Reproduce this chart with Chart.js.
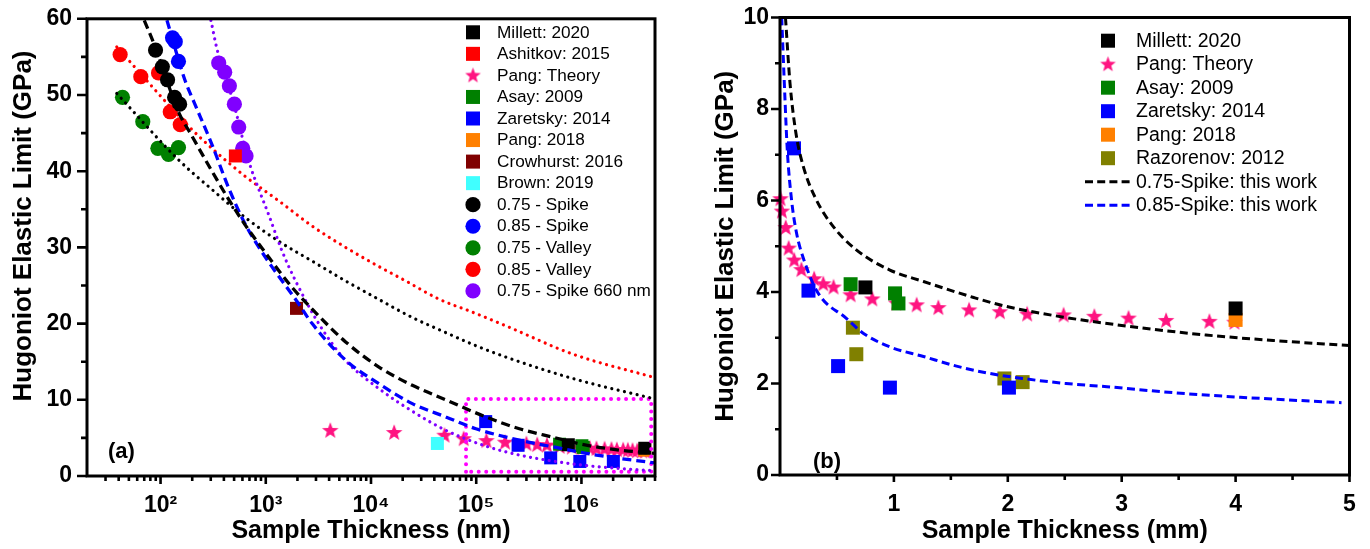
<!DOCTYPE html>
<html><head><meta charset="utf-8">
<script src="https://cdn.jsdelivr.net/npm/chart.js@4.4.1/dist/chart.umd.min.js"></script>
<style>
html,body{margin:0;padding:0;background:#fff;width:1370px;height:549px;overflow:hidden}
#wa{position:absolute;left:0;top:0;width:690px;height:549px}
#wb{position:absolute;left:690px;top:0;width:680px;height:549px}
</style></head><body>
<div id="wa"><canvas id="ca" width="690" height="549"></canvas></div>
<div id="wb"><canvas id="cb" width="680" height="549"></canvas></div>
<script>
// ---------------- DATA ----------------
// panel (a): thickness in nm, HEL in GPa
const spike075X = [89.6, 104, 116.6, 136, 151.7];
const spike075Y = [55.9, 53.7, 52.0, 49.7, 48.8];
const spike085X = [130, 138, 148];
const spike085Y = [57.5, 57.0, 54.4];
const valley075X = [43.5, 67.8, 94.3, 119, 148];
const valley075Y = [49.7, 46.5, 43.0, 42.2, 43.1];
const valley085X = [41.3, 64.9, 95.7, 123.7, 154];
const valley085Y = [55.3, 52.4, 52.9, 47.8, 46.1];
const spike660X = [357, 407, 451, 503, 553, 604, 649];
const spike660Y = [54.2, 53.0, 51.2, 48.8, 45.8, 43.0, 42.0];
const ashitkovX = [514];   const ashitkovY = [42.0];
const crowhurstX = [1960]; const crowhurstY = [22.0];
const brownX = [42750];    const brownY = [4.27];

// shared experimental / theory data, thickness in mm
const millettMM = [0.75, 4.0];            const millettY = [4.10, 3.64];
const asayMM = [0.62, 1.01, 1.04];        const asayY = [4.17, 3.97, 3.75];
const zaretskyMM = [0.123, 0.25, 0.51, 0.965, 2.01]; const zaretskyY = [7.14, 4.03, 2.38, 1.91, 1.91];
const pang2018MM = [4.0];                 const pang2018Y = [3.39];
const razorenovMM = [0.64, 0.67, 1.97, 2.13]; const razorenovY = [3.22, 2.64, 2.11, 2.03];
const theoryMM = [0.0041,0.0166,0.050,0.076,0.125,0.188,0.30,0.38,0.47,0.62,0.81,1.02,1.20,1.39,1.66,1.93,2.17,2.49,2.76,3.06,3.39,3.77,3.99];
const theoryY  = [6.05,5.78,5.42,4.97,4.71,4.50,4.30,4.19,4.12,3.95,3.86,3.77,3.73,3.67,3.62,3.58,3.53,3.51,3.48,3.44,3.39,3.37,3.35];

// fitted curves (nm)
const fitS075X = [70,89,148,199,308,444,641,1068,1780,2760,5740,11900,24700,51400,123600,257000,533000,1.11e6,2.3e6,5e6];
const fitS075Y = [59.8,56.3,47.8,44.6,40.0,36.3,32.9,28.7,24.75,21.9,17.6,14.3,11.9,10.0,7.75,6.2,5.1,4.05,3.4,2.97];
const fitS085X = [115,172,206,308,444,641,993,1960,2760,5740,11900,24700,51400,99300,257000,533000,1.11e6,2.3e6,5e6];
const fitS085Y = [59.8,51.8,49.2,43.5,37.8,33.0,28.7,23.0,20.0,15.2,12.1,9.5,7.75,6.2,4.7,3.83,2.97,2.31,1.72];
const fitS660X = [301,343,407,507,604,714,857,1068,1430,1920,3200,5740,11900,24700,51400,123600,257000,533000,1.11e6,2.3e6,5e6];
const fitS660Y = [59.8,56.1,52.8,48.4,44.2,40.65,37.65,34.25,29.5,25.6,19.96,15.16,11.46,8.5,6.0,3.92,2.75,1.96,1.37,0.98,0.69];
const fitV075X = [38.4,148,308,641,1330,2760,5740,11100,24700,44500,99300,192000,826000,5e6];
const fitV075Y = [50.2,41.5,37.6,33.9,30.8,28.2,25.6,23.4,20.8,19.2,17.1,15.6,12.8,10.1];
const fitV085X = [38.4,185,308,641,1330,2760,5740,11500,21400,44500,92200,192000,826000,5e6];
const fitV085Y = [56.3,45.9,43.0,39.3,36.1,32.8,30.0,27.6,25.6,23.2,21.5,19.7,16.0,12.9];
const zoomBoxX = [8e4, 8e4, 4.6e6, 4.6e6, 8e4];
const zoomBoxY = [0.55, 10.1, 10.1, 0.55, 0.55];

// fitted curves (mm)
const fitB075X = [0.048,0.088,0.14,0.205,0.32,0.468,0.67,0.965,1.26,1.7,1.96,2.49,3.16,3.74,4.33,5.0];
const fitB075Y = [10.0,8.56,7.47,6.74,6.01,5.43,4.92,4.48,4.23,3.88,3.7,3.45,3.22,3.06,2.94,2.83];
const fitB085X = [0.015,0.044,0.064,0.102,0.146,0.22,0.336,0.585,0.73,0.965,1.26,1.55,1.84,2.13,2.51,2.87,3.45,4.04,4.93];
const fitB085Y = [10.0,8.2,7.1,6.0,5.28,4.63,3.97,3.42,3.10,2.80,2.59,2.38,2.22,2.11,2.0,1.93,1.8,1.70,1.58];

// ticks
const xMajorA = [1e2, 1e3, 1e4, 1e5, 1e6];
const xLabelsA = ['10\u00B2', '10\u00B3', '10\u2074', '10\u2075', '10\u2076'];
const yMajorA = [0, 10, 20, 30, 40, 50, 60];
const yMinorA = [5, 15, 25, 35, 45, 55];
const xMajorB = [1, 2, 3, 4, 5];
const xMinorB = [0.5, 1.5, 2.5, 3.5, 4.5];
const yMajorB = [0, 2, 4, 6, 8, 10];
const yMinorB = [1, 3, 5, 7, 9];

const legendA = ['Millett: 2020','Ashitkov: 2015','Pang: Theory','Asay: 2009','Zaretsky: 2014','Pang: 2018','Crowhurst: 2016','Brown: 2019','0.75 - Spike','0.85 - Spike','0.75 - Valley','0.85 - Valley','0.75 - Spike 660 nm'];
const legendB = ['Millett: 2020','Pang: Theory','Asay: 2009','Zaretsky: 2014','Pang: 2018','Razorenov: 2012','0.75-Spike: this work','0.85-Spike: this work'];

// ---------------- STYLE ----------------
const FONT = '"Liberation Sans", Arial, Helvetica, sans-serif';
const PINK = '#FF1481';
const C = {black:'#000000', red:'#FF0000', green:'#008000', blue:'#0000FF', orange:'#FF8000',
  darkred:'#800000', cyan:'#40FFFF', purple:'#8000FF', olive:'#808000', magenta:'#FF00FF'};

function makeStar(R, color){
  const s = Math.ceil(R*2+4), c = document.createElement('canvas');
  c.width = s; c.height = s;
  const g = c.getContext('2d'); g.fillStyle = color; g.beginPath();
  for (let i=0;i<10;i++){ const r = i%2 ? R*0.42 : R; const a = -Math.PI/2 + i*Math.PI/5;
    g.lineTo(s/2 + r*Math.cos(a), s/2 + R*0.1 + r*Math.sin(a)); }
  g.closePath(); g.fill(); return c;
}
const starPlot = makeStar(8.7, PINK);
const starLeg = makeStar(8.2, PINK);

function pts(xs, ys, f){ f = f || 1; return xs.map((x,i)=>({x:x*f, y:ys[i]})); }
function sq(label, color, data, r){ return {label, data, _kind:'rect', pointStyle:'rect', pointRadius:r, pointBackgroundColor:color, backgroundColor:color, borderColor:color, pointBorderWidth:0, showLine:false, order:2, clip:false}; }
function ci(label, color, data){ return {label, data, _kind:'circle', pointStyle:'circle', pointRadius:7.6, pointBackgroundColor:color, backgroundColor:color, borderColor:color, pointBorderWidth:0, showLine:false, order:2, clip:false}; }
function st(label, data){ return {label, data, _kind:'star', pointStyle:starPlot, pointRadius:9, showLine:false, order:3, clip:false, backgroundColor:PINK, borderColor:PINK}; }
function ln(label, color, data, dash, w, mono){ return {label, data, _kind:'line', showLine:true, pointRadius:0, borderColor:color, backgroundColor:color, borderWidth:w, borderDash:dash, borderCapStyle: dash[0] < 1 ? 'round' : 'butt', fill:false, tension: mono ? 0.4 : 0, cubicInterpolationMode: mono ? 'monotone' : 'default', order:0}; }

// ---------------- PLUGIN: frame, minor ticks, tag, legend ----------------
const decor = {
  id: 'decor',
  afterDraw(chart, args, o){
    const ctx = chart.ctx, a = chart.chartArea, xs = chart.scales.x, ys = chart.scales.y;
    ctx.save();
    ctx.strokeStyle = '#000'; ctx.lineCap = 'butt';
    ctx.lineWidth = 2.6; ctx.beginPath();
    o.xMajor.forEach(v=>{ const p = xs.getPixelForValue(v); ctx.moveTo(p, a.bottom); ctx.lineTo(p, a.bottom + o.xMajLen); });
    o.xMinor.forEach(v=>{ const p = xs.getPixelForValue(v); ctx.moveTo(p, a.bottom); ctx.lineTo(p, a.bottom + o.xMinLen); });
    o.yMajor.forEach(v=>{ const p = ys.getPixelForValue(v); ctx.moveTo(a.left, p); ctx.lineTo(a.left - o.yMajLen, p); });
    o.yMinor.forEach(v=>{ const p = ys.getPixelForValue(v); ctx.moveTo(a.left, p); ctx.lineTo(a.left - o.yMinLen, p); });
    ctx.stroke();
    ctx.lineWidth = 3; ctx.strokeRect(a.left, a.top, a.right - a.left, a.bottom - a.top);
    // axis title drawn at a given centre when requested
    if (o.yTitle){
      ctx.save(); ctx.translate(o.yTitle.x, o.yTitle.y); ctx.rotate(-Math.PI/2);
      ctx.fillStyle = '#000'; ctx.font = 'bold 26px ' + FONT; ctx.textAlign = 'center'; ctx.textBaseline = 'middle';
      ctx.fillText(o.yTitle.text, 0, 0); ctx.restore();
    }
    // panel tag
    ctx.fillStyle = '#000'; ctx.font = 'bold 22px ' + FONT; ctx.textBaseline = 'middle'; ctx.textAlign = 'left';
    ctx.fillText(o.tag, a.left + o.tagDx, a.bottom - o.tagDy);
    // legend
    const L = o.legend;
    ctx.font = L.size + 'px ' + FONT;
    L.labels.forEach((lab, i)=>{
      const ds = chart.data.datasets.find(d=>d.label === lab);
      const y = L.y0 + i*L.dy;
      if (ds._kind === 'rect'){ ctx.fillStyle = ds.backgroundColor; ctx.fillRect(L.mx - L.sq/2, y - L.sq/2, L.sq, L.sq); }
      else if (ds._kind === 'circle'){ ctx.fillStyle = ds.backgroundColor; ctx.beginPath(); ctx.arc(L.mx, y, L.cr, 0, Math.PI*2); ctx.fill(); }
      else if (ds._kind === 'star'){ ctx.drawImage(starLeg, L.mx - starLeg.width/2, y - starLeg.height/2 - 0.5); }
      else if (ds._kind === 'line'){ ctx.strokeStyle = ds.borderColor; ctx.lineWidth = 3; ctx.setLineDash([8,4.2]);
        ctx.beginPath(); ctx.moveTo(L.lx0, y); ctx.lineTo(L.lx1, y); ctx.stroke(); ctx.setLineDash([]); }
      ctx.fillStyle = '#000'; ctx.fillText(lab, L.tx, y + 0.5);
    });
    ctx.restore();
  }
};

const tickFont = {family: FONT, size: 23, weight: 'bold'};
const titleFont = {family: FONT, size: 25, weight: 'bold'};
const yTitleFont = {family: FONT, size: 26, weight: 'bold'};

// ---------------- CHART A ----------------
new Chart(document.getElementById('ca'), {
  type: 'scatter',
  data: { datasets: [
    ln('fit 0.75 - Spike', C.black, pts(fitS075X, fitS075Y), [9,5], 3.3, true),
    ln('fit 0.85 - Spike', C.blue, pts(fitS085X, fitS085Y), [9,5], 3.3, true),
    ln('fit 0.75 - Spike 660 nm', C.purple, pts(fitS660X, fitS660Y), [0.01,6.3], 3.2, true),
    ln('fit 0.75 - Valley', C.black, pts(fitV075X, fitV075Y), [0.01,6.5], 3.2, true),
    ln('fit 0.85 - Valley', C.red, pts(fitV085X, fitV085Y), [0.01,6.5], 3.2, true),
    ln('zoom region', C.magenta, pts(zoomBoxX, zoomBoxY), [0.01,7.5], 4, false),
    sq('Millett: 2020', C.black, pts(millettMM, millettY, 1e6), 9.2),
    sq('Ashitkov: 2015', C.red, pts(ashitkovX, ashitkovY), 9.2),
    st('Pang: Theory', pts(theoryMM, theoryY, 1e6)),
    sq('Asay: 2009', C.green, pts(asayMM, asayY, 1e6), 9.2),
    sq('Zaretsky: 2014', C.blue, pts(zaretskyMM, zaretskyY, 1e6), 9.2),
    sq('Pang: 2018', C.orange, pts(pang2018MM, pang2018Y, 1e6), 9.2),
    sq('Crowhurst: 2016', C.darkred, pts(crowhurstX, crowhurstY), 9.2),
    sq('Brown: 2019', C.cyan, pts(brownX, brownY), 9.2),
    ci('0.75 - Spike', C.black, pts(spike075X, spike075Y)),
    ci('0.85 - Spike', C.blue, pts(spike085X, spike085Y)),
    ci('0.75 - Valley', C.green, pts(valley075X, valley075Y)),
    ci('0.85 - Valley', C.red, pts(valley085X, valley085Y)),
    ci('0.75 - Spike 660 nm', C.purple, pts(spike660X, spike660Y))
  ]},
  options: {
    responsive: false, animation: false, devicePixelRatio: 1, events: [],
    layout: { padding: {left: 0, right: 35, top: 17, bottom: 0} },
    plugins: { legend: {display: false}, tooltip: {enabled: false},
      decor: { xMajor: xMajorA, xMinor: (()=>{const m=[]; for(let k=1;k<=6;k++) for(let j=2;j<=9;j++){const v=j*Math.pow(10,k); if(v>=30 && v<=5e6) m.push(v);} return m;})(),
        yMajor: yMajorA, yMinor: yMinorA, xMajLen: 8, xMinLen: 5, yMajLen: 10, yMinLen: 6,
        yTitle: {text: 'Hugoniot Elastic Limit (GPa)', x: 24, y: 226},
        tag: '(a)', tagDx: 21, tagDy: 24,
        legend: {labels: legendA, mx: 473, tx: 497, y0: 32.3, dy: 21.55, size: 17.2, sq: 14, cr: 7.6} } },
    scales: {
      x: { type: 'logarithmic', min: 20, max: 5e6,
        afterBuildTicks: s => { s.ticks = xMajorA.map(v => ({value: v, major: true})); },
        afterFit: s => { s.height = 73; },
        grid: {display: false, drawTicks: true, tickLength: 8}, border: {display: false},
        ticks: {autoSkip: false, maxRotation: 0, padding: 8, color: '#000', font: tickFont,
          callback: (v, i) => xLabelsA[i]},
        title: {display: true, text: 'Sample Thickness (nm)', color: '#000', font: titleFont, padding: {top: 0, bottom: 3}} },
      y: { min: 0, max: 60,
        afterBuildTicks: s => { s.ticks = yMajorA.map(v => ({value: v})); },
        afterFit: s => { s.width = 87; },
        grid: {display: false, drawTicks: true, tickLength: 10}, border: {display: false},
        ticks: {padding: 5, color: '#000', font: tickFont},
        title: {display: false, text: 'Hugoniot Elastic Limit (GPa)'} }
    }
  },
  plugins: [decor]
});

// ---------------- CHART B ----------------
new Chart(document.getElementById('cb'), {
  type: 'scatter',
  data: { datasets: [
    ln('0.75-Spike: this work', C.black, pts(fitB075X, fitB075Y), [8,4.5], 3, true),
    ln('0.85-Spike: this work', C.blue, pts(fitB085X, fitB085Y), [8,4.5], 3, true),
    sq('Millett: 2020', C.black, pts(millettMM, millettY), 9.9),
    st('Pang: Theory', pts(theoryMM, theoryY)),
    sq('Asay: 2009', C.green, pts(asayMM, asayY), 9.9),
    sq('Zaretsky: 2014', C.blue, pts(zaretskyMM, zaretskyY), 9.9),
    sq('Pang: 2018', C.orange, pts(pang2018MM, pang2018Y), 9.9),
    sq('Razorenov: 2012', C.olive, pts(razorenovMM, razorenovY), 9.9)
  ]},
  options: {
    responsive: false, animation: false, devicePixelRatio: 1, events: [],
    layout: { padding: {left: 0, right: 20.5, top: 17.5, bottom: 0} },
    plugins: { legend: {display: false}, tooltip: {enabled: false},
      decor: { xMajor: xMajorB, xMinor: xMinorB, yMajor: yMajorB, yMinor: yMinorB,
        xMajLen: 7, xMinLen: 5, yMajLen: 9, yMinLen: 5,
        tag: '(b)', tagDx: 33, tagDy: 13,
        legend: {labels: legendB, mx: 418, tx: 446, y0: 40.7, dy: 23.5, size: 19.5, sq: 14, cr: 7.6, lx0: 395, lx1: 440} } },
    scales: {
      x: { type: 'linear', min: 0, max: 5,
        afterBuildTicks: s => { s.ticks = xMajorB.map(v => ({value: v})); },
        afterFit: s => { s.height = 74; },
        grid: {display: false, drawTicks: true, tickLength: 7}, border: {display: false},
        ticks: {autoSkip: false, maxRotation: 0, padding: 9, color: '#000', font: tickFont},
        title: {display: true, text: 'Sample Thickness (mm)', color: '#000', font: titleFont, padding: {top: 0, bottom: 3}} },
      y: { min: 0, max: 10,
        afterBuildTicks: s => { s.ticks = yMajorB.map(v => ({value: v})); },
        afterFit: s => { s.width = 90; },
        grid: {display: false, drawTicks: true, tickLength: 9}, border: {display: false},
        ticks: {padding: 2, color: '#000', font: tickFont},
        title: {display: true, text: 'Hugoniot Elastic Limit (GPa)', color: '#000', font: yTitleFont, padding: {top: 20, bottom: 0}} }
    }
  },
  plugins: [decor]
});
</script>
</body></html>
